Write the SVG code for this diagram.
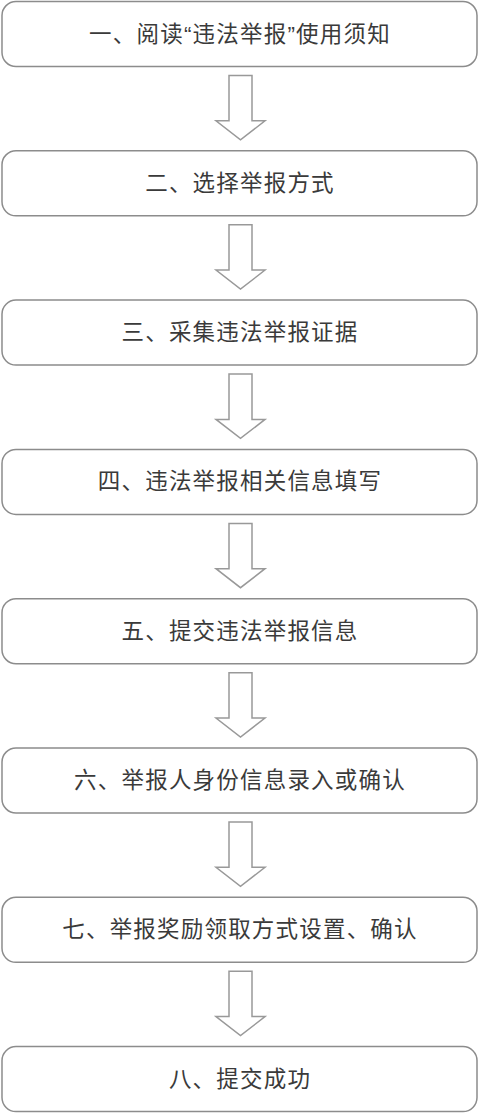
<svg xmlns="http://www.w3.org/2000/svg" width="480" height="1114" viewBox="0 0 480 1114">
<style>
.box{fill:#fff;stroke:#8c8c8c;stroke-width:1.5}
.lbl{font-family:"Liberation Sans","Noto Sans CJK SC",sans-serif;font-size:22.5px;fill:#3a3a3a;text-anchor:middle;dominant-baseline:central;letter-spacing:1.2px}
.arr{fill:#fff;stroke:#999;stroke-width:1.5;stroke-linejoin:miter}
</style>
<rect width="480" height="1114" fill="#fff"/>
<g id="connectors">
<path class="arr" d="M229,75.5 L252,75.5 L252,120.8 L265,120.8 L240.5,139.8 L216,120.8 L229,120.8 Z"/>
<path class="arr" d="M229,224.8 L252,224.8 L252,270.1 L265,270.1 L240.5,289.1 L216,270.1 L229,270.1 Z"/>
<path class="arr" d="M229,374.1 L252,374.1 L252,419.4 L265,419.4 L240.5,438.4 L216,419.4 L229,419.4 Z"/>
<path class="arr" d="M229,523.4 L252,523.4 L252,568.7 L265,568.7 L240.5,587.7 L216,568.7 L229,568.7 Z"/>
<path class="arr" d="M229,672.7 L252,672.7 L252,718 L265,718 L240.5,737 L216,718 L229,718 Z"/>
<path class="arr" d="M229,822 L252,822 L252,867.3 L265,867.3 L240.5,886.3 L216,867.3 L229,867.3 Z"/>
<path class="arr" d="M229,971.3 L252,971.3 L252,1016.6 L265,1016.6 L240.5,1035.6 L216,1016.6 L229,1016.6 Z"/>
</g>
<g id="n1"><rect class="box" x="2" y="1.5" width="475" height="65" rx="14"/><text class="lbl" x="240" y="34">一、阅读“违法举报”使用须知</text></g>
<g id="n2"><rect class="box" x="2" y="150.8" width="475" height="65" rx="14"/><text class="lbl" x="240" y="183.3">二、选择举报方式</text></g>
<g id="n3"><rect class="box" x="2" y="300.1" width="475" height="65" rx="14"/><text class="lbl" x="240" y="332.6">三、采集违法举报证据</text></g>
<g id="n4"><rect class="box" x="2" y="449.4" width="475" height="65" rx="14"/><text class="lbl" x="240" y="481.9">四、违法举报相关信息填写</text></g>
<g id="n5"><rect class="box" x="2" y="598.7" width="475" height="65" rx="14"/><text class="lbl" x="240" y="631.2">五、提交违法举报信息</text></g>
<g id="n6"><rect class="box" x="2" y="748" width="475" height="65" rx="14"/><text class="lbl" x="240" y="780.5">六、举报人身份信息录入或确认</text></g>
<g id="n7"><rect class="box" x="2" y="897.3" width="475" height="65" rx="14"/><text class="lbl" x="240" y="929.8">七、举报奖励领取方式设置、确认</text></g>
<g id="n8"><rect class="box" x="2" y="1046.6" width="475" height="65" rx="14"/><text class="lbl" x="240" y="1079.1">八、提交成功</text></g>
</svg>
